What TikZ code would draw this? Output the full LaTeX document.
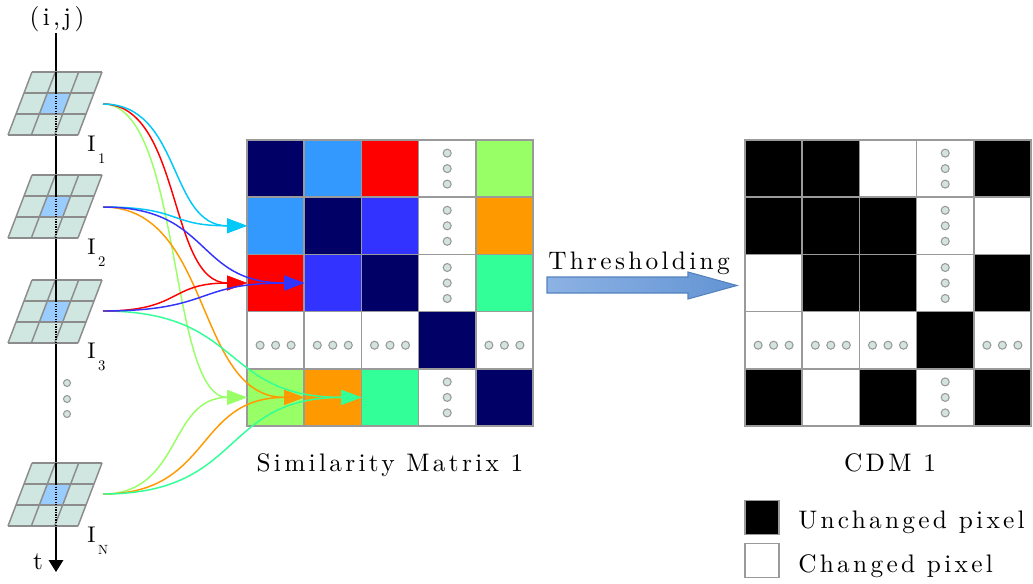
\documentclass[tikz,border=0pt]{standalone}
\usepackage{fontspec}
\setmainfont{lmroman10-regular}[Extension=.otf]
\newfontfamily\spfont{lmroman10-regular}[Extension=.otf, LetterSpace=13]
\newfontfamily\plainfont{lmroman10-regular}[Extension=.otf]
\usetikzlibrary{arrows.meta,calc}
\definecolor{navyc}{HTML}{000066}
\definecolor{lblue}{HTML}{3399FF}
\definecolor{redc}{HTML}{FF0000}
\definecolor{lgreen}{HTML}{99FF66}
\definecolor{bluec}{HTML}{3333FF}
\definecolor{orangec}{HTML}{FF9900}
\definecolor{sgreen}{HTML}{33FF99}
\definecolor{cyanl}{HTML}{00C8F8}
\definecolor{gridgray}{HTML}{9A9A9A}
\definecolor{tilefill}{HTML}{D0E6E1}
\definecolor{tilecenter}{HTML}{99CCFF}
\definecolor{tileline}{HTML}{8C8C8C}
\definecolor{dotfill}{HTML}{D3E4E0}
\definecolor{dotdraw}{HTML}{9A9A9A}
\definecolor{arrL}{HTML}{8DB2E4}
\definecolor{arrR}{HTML}{6394D4}
\definecolor{arrD}{HTML}{5582BE}
\tikzset{
  cell/.style={draw=gridgray, line width=1.1pt, minimum size=42.9pt, inner sep=0pt, outer sep=0pt},
  dotsty/.style={fill=dotfill, draw=dotdraw, line width=0.8pt},
  flow/.style={line width=1.1pt, -{Triangle[length=15pt,width=11pt]}},
  txt/.style={font=\spfont\fontsize{19}{21}\selectfont, inner sep=0pt},
  ilab/.style={font=\plainfont\fontsize{17}{19}\selectfont, inner sep=0pt, anchor=base west},
  tline/.style={draw=tileline, line width=1.1pt},
}
\begin{document}
\begin{tikzpicture}[x=0.75pt,y=-0.75pt]
\useasboundingbox (0,0) rectangle (1033,583);

% time axis
\node[txt, anchor=base] (ij) at (57,25) {(i,j)};
\node[txt, anchor=base] (tl) at (38,569) {t};
\coordinate (tend) at (56,572);
\draw[line width=0.9pt, -{Triangle[length=9pt,width=11pt]}] (56,33) -- (tend);

% image tiles
\foreach \T in {72,175,280,463} {
  \fill[tilefill] (32,\T) -- (102,\T) -- (78,{\T+63}) -- (8,{\T+63}) -- cycle;
  \fill[tilecenter] (47.33,{\T+21}) -- (70.67,{\T+21}) -- (62.67,{\T+42}) -- (39.33,{\T+42}) -- cycle;
  \draw[tline] (32,\T) -- (102,\T);
  \draw[tline] (24,{\T+21}) -- (94,{\T+21});
  \draw[tline] (16,{\T+42}) -- (86,{\T+42});
  \draw[tline] (8,{\T+63}) -- (78,{\T+63});
  \draw[tline] (32,\T) -- (8,{\T+63});
  \draw[tline] (55.33,\T) -- (31.33,{\T+63});
  \draw[tline] (78.67,\T) -- (54.67,{\T+63});
  \draw[tline] (102,\T) -- (78,{\T+63});
  \draw[line width=0.9pt] (56,\T) -- (56,{\T+21});
  \draw[line width=0.9pt, densely dotted] (56,{\T+21}) -- (56,{\T+64});
}
\foreach \y in {383,399,414} \filldraw[dotsty] (67,\y) circle[radius=3.5];

% image labels
\node[ilab] (i1) at (87,151) {I\kern2pt\raisebox{-9pt}{\fontsize{11}{11}\selectfont 1}};
\node[ilab] (i2) at (87,254) {I\kern2pt\raisebox{-9pt}{\fontsize{11}{11}\selectfont 2}};
\node[ilab] (i3) at (87,358) {I\kern2pt\raisebox{-9pt}{\fontsize{11}{11}\selectfont 3}};
\node[ilab] (iN) at (87,542) {I\kern2pt\raisebox{-9pt}{\fontsize{10}{10}\selectfont N}};

\coordinate (s1) at (103,104);
\coordinate (s2) at (103,207);
\coordinate (s3) at (103,311);
\coordinate (sN) at (103,494);

% similarity matrix
\foreach \r/\c/\col in {1/1/navyc,1/2/lblue,1/3/redc,1/4/white,1/5/lgreen,
                        2/1/lblue,2/2/navyc,2/3/bluec,2/4/white,2/5/orangec,
                        3/1/redc,3/2/bluec,3/3/navyc,3/4/white,3/5/sgreen,
                        4/1/white,4/2/white,4/3/white,4/4/navyc,4/5/white,
                        5/1/lgreen,5/2/orangec,5/3/sgreen,5/4/white,5/5/navyc}
  \node[cell, fill=\col] (m\r\c) at ({247+57.2*(\c-0.5)},{140+57.2*(\r-0.5)}) {};
% CDM
\foreach \r/\c/\col in {1/1/black,1/2/black,1/3/white,1/4/white,1/5/black,
                        2/1/black,2/2/black,2/3/black,2/4/white,2/5/white,
                        3/1/white,3/2/black,3/3/black,3/4/white,3/5/black,
                        4/1/white,4/2/white,4/3/white,4/4/black,4/5/white,
                        5/1/black,5/2/white,5/3/black,5/4/white,5/5/black}
  \node[cell, fill=\col] (k\r\c) at ({745+57.2*(\c-0.5)},{140+57.2*(\r-0.5)}) {};

\foreach \r in {1,2,3,5} \foreach \d in {-15.5,0,15.5} {
  \filldraw[dotsty] ($(m\r4)+(0,\d)$) circle[radius=4];
  \filldraw[dotsty] ($(k\r4)+(0,\d)$) circle[radius=4];
}
\foreach \c in {1,2,3,5} \foreach \d in {-15.5,0,15.5} {
  \filldraw[dotsty] ($(m4\c)+(\d,5)$) circle[radius=4];
  \filldraw[dotsty] ($(k4\c)+(\d,5)$) circle[radius=4];
}

% flows
\draw[flow, lgreen] (s1) .. controls +(79,0) and +(-79,0) .. (m51.west);
\draw[flow, redc] (s1) .. controls +(79,0) and +(-79,0) .. (m31.west);
\draw[flow, cyanl] (s1) .. controls +(79,0) and +(-79,0) .. (m21.west);
\draw[flow, cyanl] (s2) .. controls +(79,0) and +(-79,0) .. (m21.west);
\draw[flow, orangec] (s2) .. controls +(110,0) and +(-110,0) .. (m52.west);
\draw[flow, bluec] (s2) .. controls +(110,0) and +(-110,0) .. (m32.west);
\draw[flow, sgreen] (s3) .. controls +(142,0) and +(-142,0) .. (m53.west);
\draw[flow, redc] (s3) .. controls +(79,0) and +(-79,0) .. (m31.west);
\draw[flow, bluec] (s3) .. controls +(110,0) and +(-110,0) .. (m32.west);
\draw[flow, lgreen] (sN) .. controls +(79,0) and +(-79,0) .. (m51.west);
\draw[flow, orangec] (sN) .. controls +(110,0) and +(-110,0) .. (m52.west);
\draw[flow, sgreen] (sN) .. controls +(142,0) and +(-142,0) .. (m53.west);

% thresholding arrow
\shade[left color=arrL, right color=arrR, draw=arrD, line width=0.8pt]
  (547,277) -- (688,277) -- (688,272) -- (737,285.5) -- (688,299) -- (688,293) -- (547,293) -- cycle;
\node[txt, anchor=base] (thr) at (639,269) {Thresholding};

% captions
\node[txt, anchor=base] (cap1) at (390,471) {Similarity Matrix 1};
\node[txt, anchor=base] (cap2) at (890,471) {CDM 1};

% legend
\node[cell, minimum size=25.5pt, fill=black] (lg1) at (762,517.5) {};
\node[cell, minimum size=25.5pt, fill=white] (lg2) at (762,560.5) {};
\node[txt, anchor=base west] (lt1) at (798,528) {Unchanged pixel};
\node[txt, anchor=base west] (lt2) at (798,572) {Changed pixel};
\end{tikzpicture}
\end{document}
